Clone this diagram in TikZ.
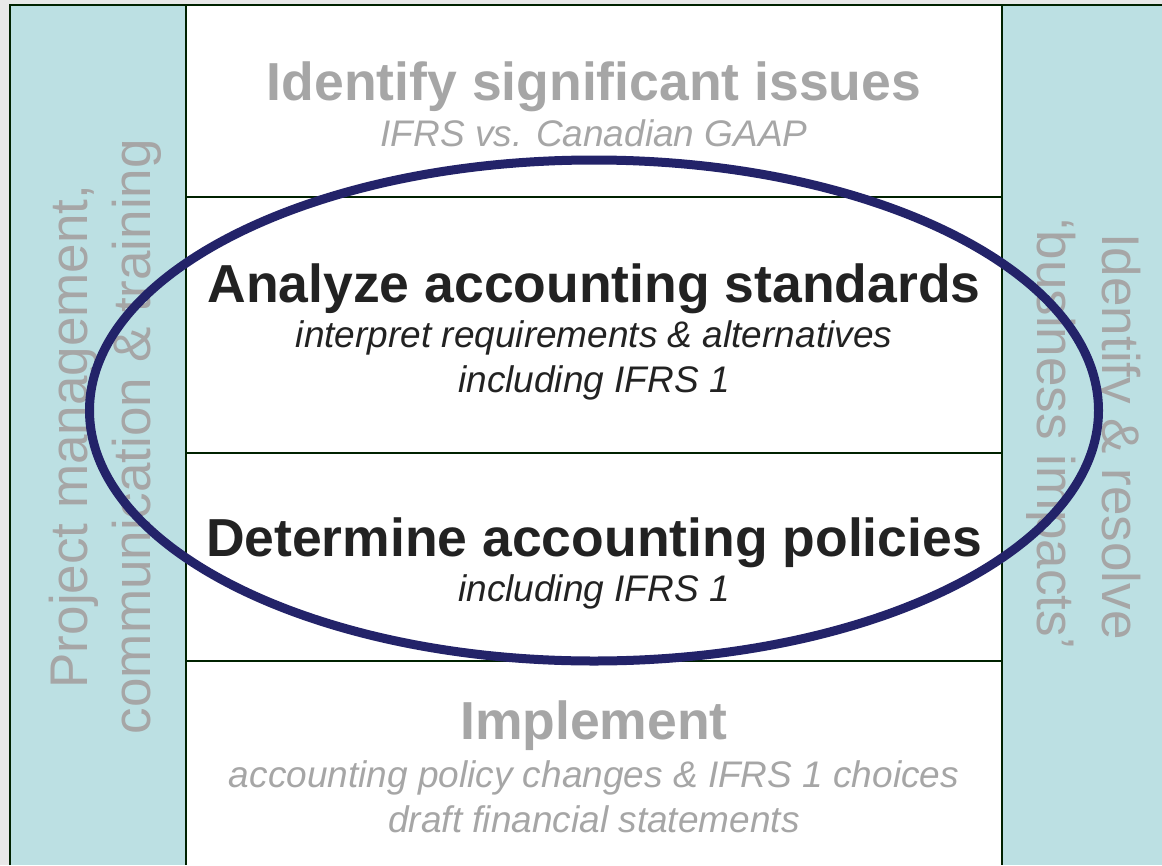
\documentclass[tikz,border=0pt]{standalone}
\usepackage{fontspec}
\setmainfont{Liberation Sans}
\definecolor{paleteal}{RGB}{188,224,227}
\definecolor{framegreen}{RGB}{0,34,0}
\definecolor{ringblue}{RGB}{35,35,105}
\definecolor{fadegray}{RGB}{166,166,166}
\definecolor{inkblack}{RGB}{34,34,34}
\definecolor{pagegray}{RGB}{232,232,232}
\begin{document}
\begin{tikzpicture}[x=1pt,y=-1pt,
    title/.style={font=\fontsize{53.5}{60}\selectfont\bfseries,anchor=base,inner sep=0pt},
    sub/.style={font=\fontsize{37}{44}\selectfont\itshape,anchor=base,inner sep=0pt},
    side/.style={font=\fontsize{53}{63}\selectfont,text=fadegray,anchor=base,inner sep=0pt},
    rule/.style={draw=framegreen,line width=2.5pt}]
    \useasboundingbox (0,0) rectangle (1162,865);
    \fill[pagegray] (0,0) rectangle (1162,865);
    % frame corners
    \coordinate(F0) at (10,5);
    \coordinate(F1) at (1162,5);
    \coordinate(F2) at (1162,865);
    \coordinate(F3) at (10,865);
    \fill[white] (F0) rectangle (F2);
    \fill[paleteal] (F0) rectangle (186,865);
    \fill[paleteal] (1002,5) rectangle (F2);
    % column edges and row lines
    \draw[rule] (F3)--(F0)--(F1);
    \foreach \x in {186,1002}{
      \draw[rule] (\x,5)--(\x,865);
    }
    \foreach \y in {197,453,661}{
      \draw[rule] (186,\y)--(1002,\y);
    }
    % side columns
    \node[side,rotate=90] (P1) at (87,436.5) {Project management,};
    \node[side,rotate=90] (P2) at (150.5,436.5) {communication \& training};
    \node[side,rotate=-90] (R1) at (1102,436.5) {Identify \& resolve};
    \node[side,rotate=-90] (R2) at (1037,434) {‘business impacts’};
    % rows
    \node[title,text=fadegray] (T1) at (594,100) {Identify significant issues};
    \node[sub,text=fadegray] (S1) at (594,146) {IFRS vs. Canadian GAAP};
    \node[title,text=inkblack] (T2) at (594,302) {Analyze accounting standards};
    \node[sub,text=inkblack] (S2a) at (594,347) {interpret requirements \& alternatives};
    \node[sub,text=inkblack] (S2b) at (594,392) {including IFRS 1};
    \node[title,text=inkblack] (T3) at (594,556) {Determine accounting policies};
    \node[sub,text=inkblack] (S3) at (594,601) {including IFRS 1};
    \node[title,text=fadegray] (T4) at (594,739) {Implement};
    \node[sub,text=fadegray] (S4a) at (594,787) {accounting policy changes \& IFRS 1 choices};
    \node[sub,text=fadegray] (S4b) at (594,832) {draft financial statements};
    % focus ring
    \draw[ringblue,line width=9pt] (594,410.5) ellipse [x radius=504.5,y radius=250.5];
\end{tikzpicture}
\end{document}
